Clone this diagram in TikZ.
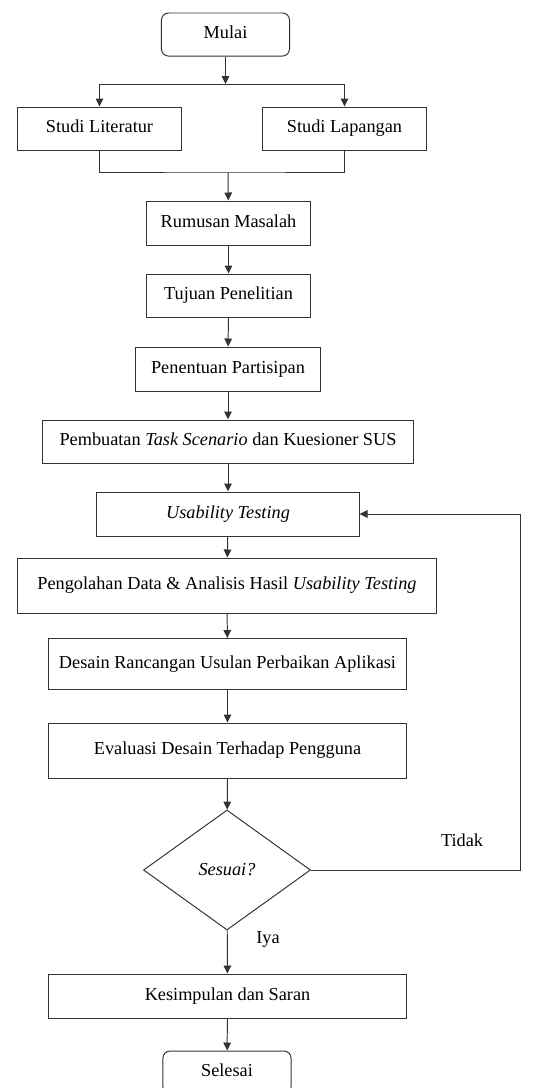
\documentclass[tikz,border=0pt]{standalone}
\usepackage{fontspec}
\setmainfont{Liberation Serif}
\usetikzlibrary{arrows.meta,shapes.geometric}

\begin{document}
\begin{tikzpicture}[x=0.025cm, y=-0.025cm, font=\fontsize{13}{15}\selectfont,
	line width=0.7pt, draw=black!80,
	stepbox/.style={draw=black!80, rectangle, minimum height=1.1cm, inner sep=2pt, text height=9pt, text depth=3pt},
	termbox/.style={stepbox, rounded corners=5pt, minimum width=3.2cm, minimum height=1.075cm},
	decide/.style={draw=black!80, diamond, minimum width=4.175cm, minimum height=3cm, inner sep=0pt, font=\fontsize{13}{15}\selectfont\itshape},
	flow/.style={-{Triangle[length=2mm,width=1.9mm]}}]
	\useasboundingbox (0,0) rectangle (560,1088);
	\node[termbox] (mulai) at (225.5,34.5) {Mulai};
	\node[stepbox, minimum width=4.075cm, minimum height=1.075cm] (lit) at (99.5,128.5) {Studi Literatur};
	\node[stepbox, minimum width=4.075cm, minimum height=1.075cm] (lap) at (344.5,128.5) {Studi Lapangan};
	\node[stepbox, minimum width=4.075cm] (rumusan) at (228.5,223) {Rumusan Masalah};
	\node[stepbox, minimum width=4.075cm, minimum height=1.075cm] (tujuan) at (228.5,295.5) {Tujuan Penelitian};
	\node[stepbox, minimum width=4.6cm] (penentuan) at (228,369) {Penentuan Partisipan};
	\node[stepbox, minimum width=9.25cm, minimum height=1.075cm] (pembuatan) at (228,441.5) {Pembuatan \textit{Task Scenario} dan Kuesioner SUS};
	\node[stepbox, minimum width=6.55cm] (usab) at (228,514) {\textit{Usability Testing}};
	\node[stepbox, minimum width=10.45cm, minimum height=1.375cm] (olah) at (227,585.5) {Pengolahan Data \& Analisis Hasil \textit{Usability Testing}};
	\node[stepbox, minimum width=8.925cm, minimum height=1.275cm] (desain) at (227.5,664) {Desain Rancangan Usulan Perbaikan Aplikasi};
	\node[stepbox, minimum width=8.925cm, minimum height=1.375cm] (evaluasi) at (227.5,750.5) {Evaluasi Desain Terhadap Pengguna};
	\node[decide] (sesuai) at (227,870) {Sesuai?};
	\node[stepbox, minimum width=8.925cm] (simpul) at (227.5,996) {Kesimpulan dan Saran};
	\node[termbox] (selesai) at (227,1072.5) {Selesai};
	\node (tidak) at (462,840) {Tidak};
	\node (iya) at (268,939) {Iya};
	\coordinate (cabang) at (225.5,84);
	\coordinate (gabung) at (228,172);
	% alur utama
	\draw[flow] (mulai) -- (cabang);
	\draw[flow] (cabang) -| (lit);
	\draw[flow] (cabang) -| (lap);
	\draw (lit.south) |- (gabung) -| (lap.south);
	\draw[flow] (gabung) -- (rumusan);
	\draw[flow] (rumusan) -- (tujuan);
	\draw[flow] (tujuan) -- (penentuan);
	\draw[flow] (penentuan) -- (pembuatan);
	\draw[flow] (pembuatan) -- (usab);
	\draw[flow] (usab) -- (olah);
	\draw[flow] (olah) -- (desain);
	\draw[flow] (desain) -- (evaluasi);
	\draw[flow] (evaluasi) -- (sesuai);
	\draw[flow] (sesuai) -- (simpul);
	\draw[flow] (simpul) -- (selesai);
	% kembali ke pengujian
	\draw[flow] (sesuai.east) -- ++(209,0) |- (usab.east);
\end{tikzpicture}
\end{document}
